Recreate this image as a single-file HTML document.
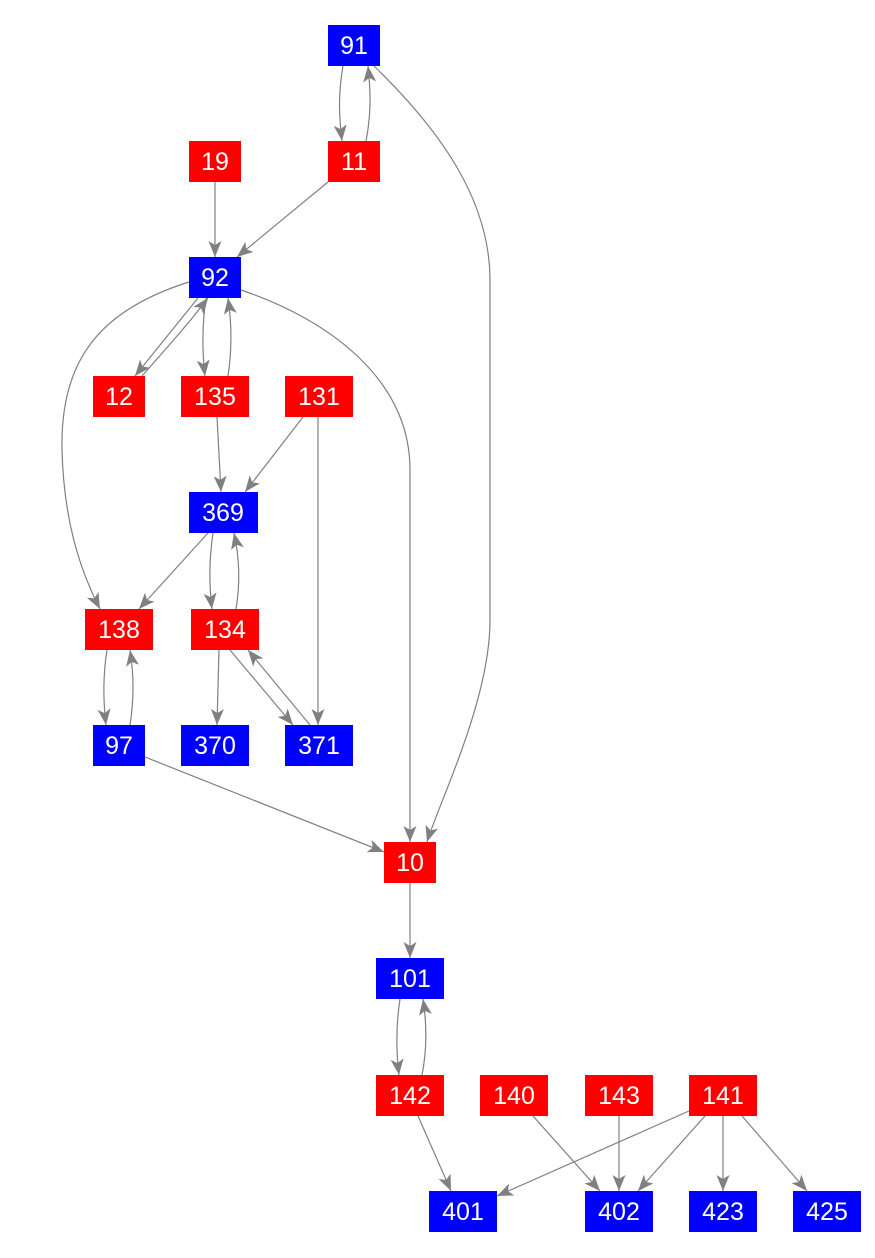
<!DOCTYPE html>
<html><head><style>
body{margin:0;background:#fff}
svg{display:block}
text{font-family:"Liberation Sans",Arial,sans-serif;font-size:25px;fill:#fff;text-anchor:middle;dominant-baseline:central}
</style></head><body>
<svg width="875" height="1258" viewBox="0 0 875 1258" xmlns="http://www.w3.org/2000/svg">
<defs>
<marker id="a" markerWidth="17" markerHeight="13" refX="16" refY="6.5" orient="auto" markerUnits="userSpaceOnUse">
<path d="M0,0 L16,6.5 L0,13 L4,6.5 Z" fill="#808080"/>
</marker>
</defs>
<g fill="none" stroke="#808080" stroke-width="1.2" marker-end="url(#a)">
<path d="M343,66 C338,95 339,115 342,141"/>
<path d="M366,141 C371,115 371,95 368,66"/>
<path d="M374,66 C440,130 490,200 490,280 L490,620 C490,700 440,800 427,842"/>
<path d="M215,182 L215,257"/>
<path d="M328,182 L237,257"/>
<path d="M198,298 L135,376"/>
<path d="M142,376 C165,350 190,322 208,298"/>
<path d="M206,298 C202,325 202,350 205,376"/>
<path d="M228,376 C232,350 232,325 228,298"/>
<path d="M189,282 C100,310 60,360 62,450 C64,530 85,580 100,609"/>
<path d="M241,290 C330,320 410,380 410,470 L410,842"/>
<path d="M217,417 L221,492"/>
<path d="M303,417 L245,492"/>
<path d="M318,417 L318,725"/>
<path d="M208,533 L139,609"/>
<path d="M213,533 C209,560 209,585 212,609"/>
<path d="M236,609 C240,585 240,560 234,533"/>
<path d="M107,650 C103,675 103,700 106,725"/>
<path d="M130,725 C134,700 134,675 130,650"/>
<path d="M219,650 L217,725"/>
<path d="M230,650 L293,725"/>
<path d="M310,725 L248,650"/>
<path d="M145,757 L384,852"/>
<path d="M410,882 L410,958"/>
<path d="M400,999 C396,1025 396,1050 399,1075"/>
<path d="M422,1075 C427,1050 427,1025 423,999"/>
<path d="M418,1116 L451,1191"/>
<path d="M533,1116 L600,1191"/>
<path d="M619,1116 L619,1191"/>
<path d="M689,1111 L497,1196"/>
<path d="M705,1116 L638,1191"/>
<path d="M723,1116 L723,1191"/>
<path d="M742,1116 L807,1191"/>
</g>
<g>
<rect x="328" y="25" width="52" height="41" fill="#00f"/><text x="354" y="46">91</text>
<rect x="189" y="141" width="52" height="41" fill="#f00"/><text x="215" y="162">19</text>
<rect x="328" y="141" width="52" height="41" fill="#f00"/><text x="354" y="162">11</text>
<rect x="189" y="257" width="52" height="41" fill="#00f"/><text x="215" y="278">92</text>
<rect x="93" y="376" width="52" height="41" fill="#f00"/><text x="119" y="397">12</text>
<rect x="181" y="376" width="68" height="41" fill="#f00"/><text x="215" y="397">135</text>
<rect x="285" y="376" width="68" height="41" fill="#f00"/><text x="319" y="397">131</text>
<rect x="189" y="492" width="69" height="41" fill="#00f"/><text x="223" y="513">369</text>
<rect x="85" y="609" width="68" height="41" fill="#f00"/><text x="119" y="630">138</text>
<rect x="191" y="609" width="68" height="41" fill="#f00"/><text x="225" y="630">134</text>
<rect x="93" y="725" width="52" height="41" fill="#00f"/><text x="119" y="746">97</text>
<rect x="181" y="725" width="68" height="41" fill="#00f"/><text x="215" y="746">370</text>
<rect x="285" y="725" width="68" height="41" fill="#00f"/><text x="319" y="746">371</text>
<rect x="384" y="842" width="52" height="41" fill="#f00"/><text x="410" y="863">10</text>
<rect x="376" y="958" width="68" height="41" fill="#00f"/><text x="410" y="979">101</text>
<rect x="376" y="1075" width="68" height="41" fill="#f00"/><text x="410" y="1096">142</text>
<rect x="480" y="1075" width="68" height="41" fill="#f00"/><text x="514" y="1096">140</text>
<rect x="585" y="1075" width="68" height="41" fill="#f00"/><text x="619" y="1096">143</text>
<rect x="689" y="1075" width="68" height="41" fill="#f00"/><text x="723" y="1096">141</text>
<rect x="429" y="1191" width="68" height="41" fill="#00f"/><text x="463" y="1212">401</text>
<rect x="585" y="1191" width="68" height="41" fill="#00f"/><text x="619" y="1212">402</text>
<rect x="689" y="1191" width="68" height="41" fill="#00f"/><text x="723" y="1212">423</text>
<rect x="793" y="1191" width="68" height="41" fill="#00f"/><text x="827" y="1212">425</text>
</g>
</svg>
</body></html>
